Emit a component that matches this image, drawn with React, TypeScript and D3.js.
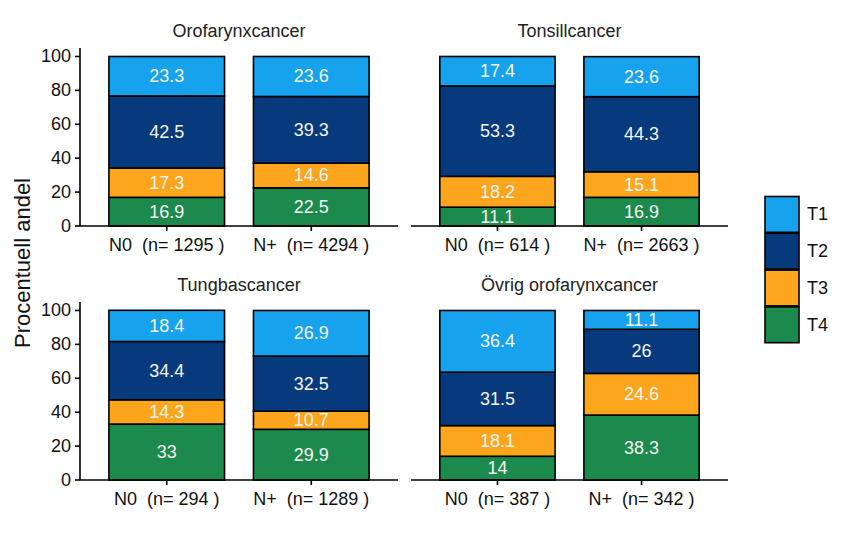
import React from "react";
import * as d3 from "d3";

const stages = ["T1", "T2", "T3", "T4"];
const stageColors = ["#17A2EE", "#073A7D", "#FDA51D", "#1C8A4C"];
const panelTitles = ["Orofarynxcancer", "Tonsillcancer", "Tungbascancer", "Övrig orofarynxcancer"];
const groupLabels = [
  ["N0  (n= 1295 )", "N+  (n= 4294 )"],
  ["N0  (n= 614 )", "N+  (n= 2663 )"],
  ["N0  (n= 294 )", "N+  (n= 1289 )"],
  ["N0  (n= 387 )", "N+  (n= 342 )"],
];
// values per panel, per group: [T1, T2, T3, T4]
const oroValues = [[23.3, 42.5, 17.3, 16.9], [23.6, 39.3, 14.6, 22.5]];
const tonsillValues = [[17.4, 53.3, 18.2, 11.1], [23.6, 44.3, 15.1, 16.9]];
const tungbasValues = [[18.4, 34.4, 14.3, 33], [26.9, 32.5, 10.7, 29.9]];
const ovrigValues = [[36.4, 31.5, 18.1, 14], [11.1, 26, 24.6, 38.3]];
const yTicks = [0, 20, 40, 60, 80, 100];

const panelValues = [oroValues, tonsillValues, tungbasValues, ovrigValues];

const FONT = "'Liberation Sans', Arial, sans-serif";

const panelsX = [
  [80, 398],
  [411, 728],
];
const panelsY = [
  [226, 48],
  [480, 302],
];

function Panel({ idx }: { idx: number }) {
  const col = idx % 2;
  const row = Math.floor(idx / 2);
  const [x0, x1] = panelsX[col];
  const [yb, yt] = panelsY[row];
  const x = d3.scalePoint<string>().domain(["0", "1"]).range([x0, x1]).padding(0.6);
  const y = d3.scaleLinear().domain([0, 105]).range([yb, yt]);
  const bw = x.step() * 0.8;
  const data = panelValues[idx];
  const order = [3, 2, 1, 0]; // stack T4 bottom .. T1 top
  return (
    <g>
      <text
        x={(x0 + x1) / 2}
        y={row === 0 ? 37 : 291}
        textAnchor="middle"
        fontSize={18}
        fill="#222"
        fontFamily={FONT}
      >
        {panelTitles[idx]}
      </text>
      {data.map((vals, g) => {
        let acc = 0;
        const cx = x(String(g))!;
        return (
          <g key={g}>
            {order.map((si) => {
              const v = vals[si];
              const y0 = acc;
              const y1 = acc + v;
              acc = y1;
              return (
                <g key={si}>
                  <rect
                    x={cx - bw / 2}
                    y={y(y1)}
                    width={bw}
                    height={y(y0) - y(y1)}
                    fill={stageColors[si]}
                    stroke="#000"
                    strokeWidth={1.6}
                  />
                  <text
                    x={cx}
                    y={y((y0 + y1) / 2)}
                    textAnchor="middle"
                    dominantBaseline="central"
                    fontSize={18}
                    fill="#F4F4F4"
                    fontFamily={FONT}
                  >
                    {String(v)}
                  </text>
                </g>
              );
            })}
          </g>
        );
      })}
      {/* x axis */}
      <line x1={x0} x2={x1} y1={yb} y2={yb} stroke="#000" strokeWidth={1.6} />
      {data.map((_, g) => {
        const cx = x(String(g))!;
        return (
          <g key={"xt" + g}>
            <line x1={cx} x2={cx} y1={yb} y2={yb + 5} stroke="#000" strokeWidth={1.6} />
            <text
              x={cx}
              y={yb + 25}
              textAnchor="middle"
              fontSize={18}
              fill="#111"
              fontFamily={FONT}
              style={{ whiteSpace: "pre" }}
              xmlSpace="preserve"
            >
              {groupLabels[idx][g]}
            </text>
          </g>
        );
      })}
      {col === 0 && (
        <g>
          <line x1={x0} x2={x0} y1={yt} y2={yb} stroke="#000" strokeWidth={1.6} />
          {yTicks.map((t) => (
            <g key={t}>
              <line x1={x0 - 5} x2={x0} y1={y(t)} y2={y(t)} stroke="#000" strokeWidth={1.6} />
              <text
                x={x0 - 9}
                y={y(t)}
                textAnchor="end"
                dominantBaseline="central"
                fontSize={18}
                fill="#111"
                fontFamily={FONT}
              >
                {t}
              </text>
            </g>
          ))}
        </g>
      )}
    </g>
  );
}

export default function App() {
  const legendTop = 196;
  const keyH = 36.8;
  return (
    <svg
      width={852}
      height={548}
      style={{ position: "absolute", left: 0, top: 0, background: "#fff" }}
    >
      <rect x={0} y={0} width={852} height={548} fill="#fff" />
      {[0, 1, 2, 3].map((i) => (
        <Panel key={i} idx={i} />
      ))}
      <text
        transform="translate(30,263) rotate(-90)"
        textAnchor="middle"
        fontSize={22}
        fill="#111"
        fontFamily={FONT}
      >
        Procentuell andel
      </text>
      {stages.map((s, i) => (
        <g key={s}>
          <rect
            x={765}
            y={legendTop + i * keyH + 0.5}
            width={34}
            height={keyH - 1}
            fill={stageColors[i]}
            stroke="#000"
            strokeWidth={1.6}
          />
          <text
            x={807}
            y={legendTop + i * keyH + keyH / 2}
            dominantBaseline="central"
            fontSize={18}
            fill="#111"
            fontFamily={FONT}
          >
            {s}
          </text>
        </g>
      ))}
    </svg>
  );
}
